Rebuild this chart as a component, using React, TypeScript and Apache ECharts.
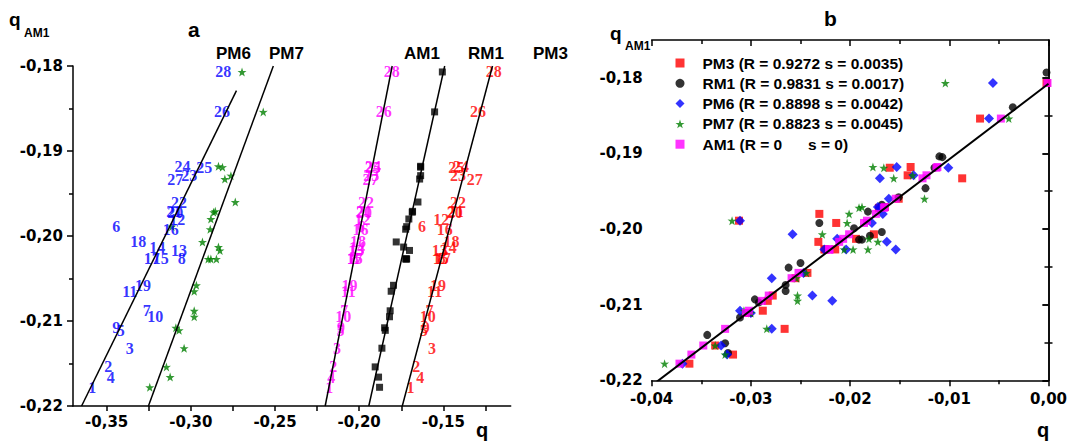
import React, { useEffect, useRef } from 'react';
import * as echarts from 'echarts';

// atom numbers
const atoms = ['1','2','3','4','5','6','7','8','9','10','11','12','13','14','15','16','17','18','19','20','21','22','23','24','25','26','27','28'];

// q(AM1) of every atom (vertical axis of both panels)
const qAM1 = [-0.2178, -0.2154, -0.2132, -0.2166, -0.2111, -0.1989, -0.2088, -0.2027, -0.2108, -0.2095, -0.2065, -0.1980, -0.2017, -0.2013, -0.2027, -0.1992, -0.2027, -0.2007, -0.2058, -0.1972, -0.1971, -0.1960, -0.1929, -0.1918, -0.1919, -0.1854, -0.1933, -0.1807];

// panel a: charges of the other methods
const qPM6 = [-0.3586, -0.3490, -0.3363, -0.3476, -0.3417, -0.3443, -0.3262, -0.3054, -0.3443, -0.3212, -0.3363, -0.3080, -0.3070, -0.3199, -0.3179, -0.3119, -0.3232, -0.3312, -0.3284, -0.3093, -0.3099, -0.3070, -0.3010, -0.3050, -0.2921, -0.2815, -0.3093, -0.2808];
const qPM7 = [-0.3244, -0.3145, -0.3040, -0.3123, -0.3070, -0.3113, -0.2980, -0.2848, -0.3089, -0.2980, -0.2980, -0.2881, -0.2827, -0.2836, -0.2881, -0.2885, -0.2897, -0.2931, -0.2967, -0.2865, -0.2855, -0.2736, -0.2762, -0.2836, -0.2812, -0.2570, -0.2798, -0.2696];
const qRM1 = [-0.1879, -0.1905, -0.1865, -0.1885, -0.1845, -0.1718, -0.1816, -0.1724, -0.1849, -0.1820, -0.1810, -0.1705, -0.1701, -0.1736, -0.1720, -0.1724, -0.1718, -0.1780, -0.1796, -0.1685, -0.1683, -0.1651, -0.1635, -0.1635, -0.1635, -0.1552, -0.1641, -0.1506];
const qPM3 = [-0.1695, -0.1661, -0.1568, -0.1637, -0.1617, -0.1627, -0.1582, -0.1510, -0.1605, -0.1592, -0.1552, -0.1512, -0.1522, -0.1468, -0.1516, -0.1492, -0.1504, -0.1452, -0.1532, -0.1433, -0.1427, -0.1413, -0.1413, -0.1395, -0.1423, -0.1294, -0.1314, -0.1201];

// panel a regression lines (end points)
const linePM6 = [[-0.3649, -0.22], [-0.2729, -0.1829]];
const linePM7 = [[-0.3252, -0.22], [-0.2510, -0.18]];
const lineAM1 = [[-0.2202, -0.22], [-0.1804, -0.18]];
const lineRM1 = [[-0.1943, -0.22], [-0.1492, -0.18]];
const linePM3 = [[-0.1744, -0.22], [-0.1208, -0.18]];

// panel b: x values per atom
const bPM3 = [-0.0362, -0.0336, -0.0266, -0.0318, -0.0302, -0.0312, -0.0278, -0.0225, -0.0288, -0.0283, -0.0255, -0.0231, -0.0232, -0.0194, -0.0226, -0.0214, -0.0215, -0.0176, -0.0243, -0.0171, -0.0165, -0.0151, -0.0142, -0.0139, -0.0160, -0.0069, -0.0087, -0.0002];
const bPM6 = [-0.0369, -0.0330, -0.0279, -0.0324, -0.0300, -0.0311, -0.0238, -0.0154, -0.0311, -0.0218, -0.0279, -0.0167, -0.0163, -0.0213, -0.0204, -0.0178, -0.0226, -0.0258, -0.0247, -0.0170, -0.0172, -0.0161, -0.0136, -0.0153, -0.0101, -0.0060, -0.0170, -0.0056];
const bPM7 = [-0.0387, -0.0336, -0.0284, -0.0326, -0.0300, -0.0319, -0.0253, -0.0182, -0.0307, -0.0253, -0.0254, -0.0201, -0.0172, -0.0181, -0.0197, -0.0203, -0.0206, -0.0228, -0.0244, -0.0191, -0.0188, -0.0125, -0.0137, -0.0177, -0.0166, -0.0040, -0.0156, -0.0104];
const bAM1 = [-0.0372, -0.0348, -0.0326, -0.0360, -0.0305, -0.0183, -0.0282, -0.0221, -0.0302, -0.0289, -0.0259, -0.0174, -0.0211, -0.0207, -0.0221, -0.0186, -0.0221, -0.0201, -0.0252, -0.0166, -0.0165, -0.0154, -0.0123, -0.0112, -0.0113, -0.0048, -0.0127, -0.0001];
// panel b: RM1 points
const bRM1x = [-0.0002, -0.0036, -0.0110, -0.0107, -0.0115, -0.0124, -0.0151, -0.0168, -0.0182, -0.0196, -0.0180, -0.0168, -0.0191, -0.0188, -0.0231, -0.0250, -0.0262, -0.0265, -0.0265, -0.0296, -0.0292, -0.0311, -0.0344, -0.0326, -0.0323];
const bRM1y = [-0.1793, -0.1839, -0.1904, -0.1905, -0.1919, -0.1946, -0.1958, -0.1968, -0.1977, -0.1999, -0.2009, -0.2004, -0.2014, -0.2014, -0.1992, -0.2045, -0.2051, -0.2074, -0.2082, -0.2093, -0.2097, -0.2117, -0.2140, -0.2151, -0.2164];
const lineB = [[-0.0395, -0.2202], [0, -0.1808]];

// ticks and labels
const aXTicks = [-0.35, -0.325, -0.3, -0.275, -0.25, -0.225, -0.2, -0.175, -0.15, -0.125];
const aXLabels = [-0.35, -0.3, -0.25, -0.2, -0.15];
const bYMajor = [-0.22, -0.21, -0.2, -0.19, -0.18];
const bYMinor = [-0.215, -0.205, -0.195, -0.185];

const seriesNames = ['PM3', 'RM1', 'PM6', 'PM7', 'AM1'];
const legendTexts = ['PM3 (R = 0.9272 s = 0.0035)', 'RM1 (R = 0.9831 s = 0.0017)', 'PM6 (R = 0.8898 s = 0.0042)', 'PM7 (R = 0.8823 s = 0.0045)', 'AM1 (R = 0\u00a0\u00a0\u00a0\u00a0\u00a0\u00a0s = 0)'];
const methodLabels = ['PM6', 'PM7', 'AM1', 'RM1', 'PM3'];

const STAR = 'path://M50,0 L61.8,35.1 L97.6,34.5 L69.1,56.7 L79.4,90.5 L50,70 L20.6,90.5 L30.9,56.7 L2.4,34.5 L38.2,35.1 Z';
const RED = '#ff0000', BLUE = '#0000ff', GREEN = '#008000', MAG = '#ff00ff', BLACK = '#000000';

const fmt = (v: number) => (Math.round(v * 10000) / 10000).toFixed(2).replace('.', ',').replace('-0,00', '0,00');
const tickFont = { fontFamily: 'DejaVu Sans', fontWeight: 'bold' as const, fontSize: 15, color: '#000' };

function App() {
  const ref = useRef<HTMLDivElement>(null);
  useEffect(() => {
    if (!ref.current) return;
    const chart = echarts.init(ref.current, undefined, { renderer: 'svg' });
    const axisLine = { show: true, lineStyle: { color: BLACK, width: 1.5 } };
    const tickStyle = { color: BLACK, width: 1.5 };

    const labelSeries = (name: string, xs: number[], color: string) => ({
      name, type: 'scatter', xAxisIndex: 0, yAxisIndex: 0, silent: true,
      symbolSize: 2, itemStyle: { color: 'rgba(0,0,0,0)' },
      data: xs.map((x, i) => [x, qAM1[i], atoms[i]]),
      label: { show: true, position: 'inside', formatter: (p: any) => p.value[2], color,
        fontFamily: 'Liberation Serif', fontWeight: 'bold', fontSize: 16 },
      z: 4,
    });
    const lineSeries = (name: string, pts: number[][], xi: number, width: number) => ({
      name, type: 'line', xAxisIndex: xi, yAxisIndex: xi, data: pts, symbol: 'none', silent: true,
      lineStyle: { color: BLACK, width }, z: 5,
    });

    const option: any = {
      animation: false,
      grid: [
        { left: 73, top: 66, width: 437.7, height: 340 },
        { left: 651.7, top: 39.9, width: 398.3, height: 340.4 },
      ],
      xAxis: [
        { gridIndex: 0, type: 'value', min: -0.37, max: -0.11, axisLine, splitLine: { show: false },
          axisTick: { customValues: aXTicks, length: 5, lineStyle: tickStyle },
          axisLabel: { customValues: aXLabels, formatter: fmt, margin: 8, ...tickFont } },
        { gridIndex: 1, type: 'value', min: -0.04, max: 0, interval: 0.01, axisLine, splitLine: { show: false },
          axisTick: { length: 6, lineStyle: tickStyle },
          minorTick: { show: true, splitNumber: 2, length: 4, lineStyle: tickStyle },
          axisLabel: { formatter: fmt, margin: 11, ...tickFont } },
        { gridIndex: 1, type: 'value', position: 'top', min: -0.04, max: 0, interval: 0.01, axisLine, splitLine: { show: false },
          axisTick: { inside: true, length: 6, lineStyle: tickStyle },
          minorTick: { show: true, splitNumber: 2, length: 4, lineStyle: tickStyle },
          axisLabel: { show: false } },
      ],
      yAxis: [
        { gridIndex: 0, type: 'value', min: -0.22, max: -0.18, interval: 0.01, axisLine, splitLine: { show: false },
          axisTick: { length: 6, lineStyle: tickStyle },
          minorTick: { show: true, splitNumber: 2, length: 4, lineStyle: tickStyle },
          axisLabel: { formatter: fmt, margin: 10, ...tickFont } },
        { gridIndex: 1, type: 'value', min: -0.22, max: -0.175, axisLine, splitLine: { show: false },
          axisTick: { customValues: bYMajor, length: 6, lineStyle: tickStyle },
          axisLabel: { customValues: bYMajor, formatter: fmt, margin: 9, ...tickFont } },
        { gridIndex: 1, type: 'value', min: -0.22, max: -0.175, axisLine: { show: false }, splitLine: { show: false },
          axisTick: { customValues: bYMinor, length: 4, lineStyle: tickStyle }, axisLabel: { show: false } },
        { gridIndex: 1, type: 'value', position: 'right', min: -0.22, max: -0.175, axisLine, splitLine: { show: false },
          axisTick: { customValues: bYMajor, inside: true, length: 6, lineStyle: tickStyle }, axisLabel: { show: false } },
        { gridIndex: 1, type: 'value', position: 'right', min: -0.22, max: -0.175, axisLine: { show: false }, splitLine: { show: false },
          axisTick: { customValues: bYMinor, inside: true, length: 4, lineStyle: tickStyle }, axisLabel: { show: false } },
      ],
      legend: {
        data: seriesNames, orient: 'vertical', left: 670.5, top: 50, itemWidth: 9, itemHeight: 9, itemGap: 4.3,
        selectedMode: false,
        formatter: (n: string) => legendTexts[seriesNames.indexOf(n)],
        textStyle: { fontFamily: 'Liberation Sans', fontWeight: 'bold', fontSize: 15.5, lineHeight: 16, color: '#000',
          padding: [0, 0, 0, 13] },
      },
      series: [
        lineSeries('fitPM6', linePM6, 0, 1.5),
        lineSeries('fitPM7', linePM7, 0, 1.5),
        lineSeries('fitAM1', lineAM1, 0, 1.5),
        lineSeries('fitRM1', lineRM1, 0, 1.5),
        lineSeries('fitPM3', linePM3, 0, 1.5),
        labelSeries('a-PM6', qPM6, BLUE),
        { name: 'a-PM7', type: 'scatter', xAxisIndex: 0, yAxisIndex: 0, silent: true, symbol: STAR, symbolSize: 9,
          itemStyle: { color: GREEN }, data: qPM7.map((x, i) => [x, qAM1[i]]) },
        labelSeries('a-AM1', qAM1, MAG),
        { name: 'a-RM1', type: 'scatter', xAxisIndex: 0, yAxisIndex: 0, silent: true, symbol: 'rect', symbolSize: 7,
          itemStyle: { color: BLACK }, data: qRM1.map((x, i) => [x, qAM1[i]]) },
        labelSeries('a-PM3', qPM3, RED),
        { name: 'PM3', type: 'scatter', xAxisIndex: 1, yAxisIndex: 1, silent: true, symbol: 'rect', symbolSize: 8,
          itemStyle: { color: RED }, data: bPM3.map((x, i) => [x, qAM1[i]]) },
        { name: 'RM1', type: 'scatter', xAxisIndex: 1, yAxisIndex: 1, silent: true, symbol: 'circle', symbolSize: 8,
          itemStyle: { color: BLACK }, data: bRM1x.map((x, i) => [x, bRM1y[i]]) },
        { name: 'PM6', type: 'scatter', xAxisIndex: 1, yAxisIndex: 1, silent: true, symbol: 'diamond', symbolSize: 10,
          itemStyle: { color: BLUE }, data: bPM6.map((x, i) => [x, qAM1[i]]) },
        { name: 'PM7', type: 'scatter', xAxisIndex: 1, yAxisIndex: 1, silent: true, symbol: STAR, symbolSize: 9,
          itemStyle: { color: GREEN }, data: bPM7.map((x, i) => [x, qAM1[i]]) },
        { name: 'AM1', type: 'scatter', xAxisIndex: 1, yAxisIndex: 1, silent: true, symbol: 'rect', symbolSize: 8,
          itemStyle: { color: MAG }, data: bAM1.map((x, i) => [x, qAM1[i]]) },
        lineSeries('fitB', lineB, 1, 2),
      ],
      graphic: [
        { type: 'text', x: 188, y: 29, style: { text: 'a', font: 'bold 21px "Liberation Sans"', fill: '#000', verticalAlign: 'middle' } },
        { type: 'text', x: 824, y: 18, style: { text: 'b', font: 'bold 21px "Liberation Sans"', fill: '#000', verticalAlign: 'middle' } },
        { type: 'text', x: 9, y: 19, style: { text: 'q', font: 'bold 19px "Liberation Sans"', fill: '#000', verticalAlign: 'middle' } },
        { type: 'text', x: 24, y: 33, style: { text: 'AM1', font: 'bold 12px "Liberation Sans"', fill: '#000', verticalAlign: 'middle' } },
        { type: 'text', x: 610, y: 33, style: { text: 'q', font: 'bold 19px "Liberation Sans"', fill: '#000', verticalAlign: 'middle' } },
        { type: 'text', x: 625, y: 46, style: { text: 'AM1', font: 'bold 12px "Liberation Sans"', fill: '#000', verticalAlign: 'middle' } },
        { type: 'text', x: 476, y: 430, style: { text: 'q', font: 'bold 20px "Liberation Sans"', fill: '#000', verticalAlign: 'middle' } },
        { type: 'text', x: 1037, y: 430, style: { text: 'q', font: 'bold 20px "Liberation Sans"', fill: '#000', verticalAlign: 'middle' } },
        ...methodLabels.map((t, i) => ({ type: 'text', x: [216, 269, 404, 468, 533][i], y: 53,
          style: { text: t, font: 'bold 17px "Liberation Sans"', fill: '#000', verticalAlign: 'middle' } })),
      ],
    };
    chart.setOption(option);
    return () => chart.dispose();
  }, []);
  return <div ref={ref} style={{ position: 'absolute', left: 0, top: 0, width: 1070, height: 443, background: '#fff' }} />;
}

export default App;
